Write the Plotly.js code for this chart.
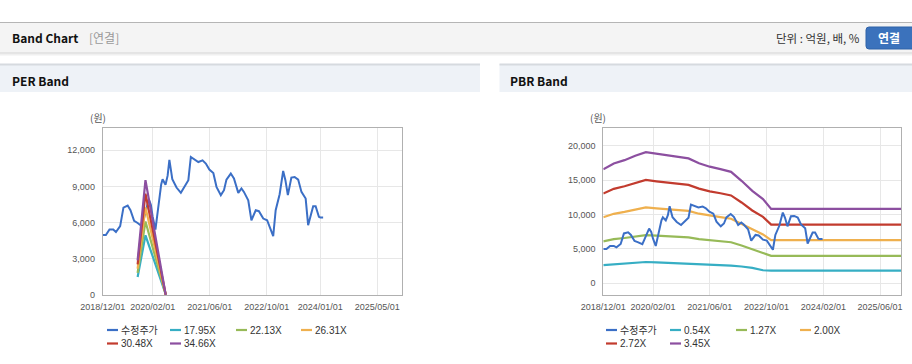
<!DOCTYPE html>
<html>
<head>
<meta charset="utf-8">
<script src="https://cdn.plot.ly/plotly-3.0.1.min.js"></script>
<style>
html,body{margin:0;padding:0;background:#fff;}
#chart{width:912px;height:364px;}
</style>
</head>
<body>
<div id="chart"></div>
<script>
// ---------------- data ----------------
const priceDates = ['2018-12-01','2018-12-28','2019-01-28','2019-03-01','2019-03-24','2019-04-29','2019-05-27','2019-07-02','2019-07-26','2019-08-26','2019-09-22','2019-10-14','2019-11-01','2019-11-22','2019-12-29','2020-01-16','2020-01-31','2020-02-24','2020-03-14','2020-03-29','2020-04-13','2020-04-25','2020-05-20','2020-06-07','2020-06-22','2020-07-17','2020-08-22','2020-09-28','2020-10-25','2020-12-01','2020-12-22','2021-01-24','2021-02-24','2021-04-01','2021-04-29','2021-05-29','2021-07-02','2021-07-29','2021-09-04','2021-10-01','2021-10-22','2021-11-28','2021-12-25','2022-01-31','2022-02-27','2022-03-20','2022-04-26','2022-05-23','2022-06-29','2022-07-26','2022-09-01','2022-10-04','2022-11-01','2022-11-25','2022-12-16','2023-01-19','2023-02-18','2023-03-09','2023-03-30','2023-04-29','2023-05-27','2023-06-26','2023-07-24','2023-08-29','2023-09-19','2023-10-02','2023-11-01','2023-11-22','2023-12-20','2024-01-01','2024-01-25'];
const price = [4970,4970,5430,5430,5220,5710,7250,7420,7030,6150,5990,5790,5700,6500,7950,7480,6520,5420,7000,8300,9170,9600,9150,9900,11200,9600,8910,8470,8910,9520,11450,11230,11030,11170,10900,10400,10120,8970,8280,8690,9570,10070,9660,8470,8830,8550,7860,6200,7030,6950,6340,6200,5520,4880,7030,8360,10290,9520,8280,9740,9790,9570,8550,8000,5790,6340,7370,7370,6480,6430,6430];

const perBandDates = ['2019-09-25','2019-12-01','2020-05-22'];
const per1795 = [1490,4950,50];
const per2213 = [1840,6100,40];
const per2631 = [2180,7260,30];
const per3048 = [2530,8400,20];
const per3466 = [2880,9530,10];

const pbrBandDates = ['2018-12-01','2019-03-01','2019-06-01','2019-09-01','2019-12-01','2020-03-01','2020-06-01','2020-09-01','2020-12-01','2021-03-01','2021-06-01','2021-09-01','2021-12-01','2022-03-01','2022-06-01','2022-09-01','2022-11-10','2025-12-31'];
const pbr054 = [2650,2750,2900,3000,3100,3050,2980,2930,2900,2800,2700,2650,2560,2440,2250,1900,1830,1830];
const pbr127 = [6096,6413,6589,6829,7013,6921,6847,6773,6681,6424,6240,6111,5964,5485,4944,4509,3983,3983];
const pbr200 = [9600,10099,10377,10754,11043,10899,10783,10667,10522,10116,9826,9623,9391,8638,7786,7101,6272,6272];
const pbr272 = [13056,13734,14113,14625,15019,14822,14664,14507,14310,13758,13364,13088,12772,11747,10588,9658,8531,8531];
const pbr345 = [16560,17420,17900,18550,19050,18800,18600,18400,18150,17450,16950,16600,16200,14900,13430,12250,10820,10820];

const perNames = ['수정주가','17.95X','22.13X','26.31X','30.48X','34.66X'];
const pbrNames = ['수정주가','0.54X','1.27X','2.00X','2.72X','3.45X'];
const perTicks = ['2018-12-01','2020-02-01','2021-06-01','2022-10-01','2024-01-01','2025-05-01'];
const pbrTicks = ['2018-12-01','2020-02-01','2021-06-01','2022-10-01','2024-02-01','2025-06-01'];
const perYTicks = [0,3000,6000,9000,12000];
const pbrYTicks = [0,5000,10000,15000,20000];

// ---------------- styling ----------------
const colors = ['#3b6fc6','#36aec4','#97ba58','#efb04e','#c23b2e','#8c4fa0'];
const W = 912, H = 364;
const X = v => v / W;
const Y = v => 1 - v / H;
const LAT = 'Liberation Sans, Noto Sans CJK KR, sans-serif';
const KR = 'Noto Sans CJK KR, Liberation Sans, sans-serif';

const perBands = [per1795, per2213, per2631, per3048, per3466];
const pbrBands = [pbr054, pbr127, pbr200, pbr272, pbr345];

const traces = [];
traces.push({x: priceDates, y: price, xaxis:'x', yaxis:'y', type:'scatter', mode:'lines', name: perNames[0], line:{color: colors[0], width:2}});
perBands.forEach((b,i)=>traces.push({x: perBandDates, y: b, xaxis:'x', yaxis:'y', type:'scatter', mode:'lines', name: perNames[i+1], line:{color: colors[i+1], width:2.2}}));
pbrBands.forEach((b,i)=>traces.push({x: pbrBandDates, y: b, xaxis:'x2', yaxis:'y2', type:'scatter', mode:'lines', name: pbrNames[i+1], line:{color: colors[i+1], width:2.2}}));
traces.push({x: priceDates, y: price, xaxis:'x2', yaxis:'y2', type:'scatter', mode:'lines', name: pbrNames[0], line:{color: colors[0], width:2}});

const shapes = [];
const annotations = [];
function hline(x0,x1,y,color,w){shapes.push({type:'line',xref:'paper',yref:'paper',x0:X(x0),x1:X(x1),y0:Y(y),y1:Y(y),line:{color:color,width:w},layer:'below'});}
function rect(x0,x1,y0,y1,fill){shapes.push({type:'rect',xref:'paper',yref:'paper',x0:X(x0),x1:X(x1),y0:Y(y1),y1:Y(y0),fillcolor:fill,line:{width:0},layer:'below'});}
function text(t,x,y,opt){annotations.push(Object.assign({text:t,xref:'paper',yref:'paper',x:X(x),y:Y(y),xanchor:'left',yanchor:'middle',showarrow:false,borderpad:0,font:{family:KR,size:12,color:'#333'}},opt||{}));}

// header bar
rect(0,912,22.5,52.5,'#f4f4f4');
hline(0,912,22.5,'#b5b5b5',1);
hline(0,912,53,'#cfcfcf',1);
hline(0,912,54,'#e2e2e2',1);
hline(0,912,55,'#f0f0f0',1);
text('Band Chart',11,38,{font:{family:KR,size:12,color:'#111',weight:'bold'}});
text('[연결]',88,38,{font:{family:KR,size:12,color:'#999'}});
text('단위 : 억원, 배, %',861,38,{xanchor:'right',font:{family:KR,size:11.5,color:'#333'}});
// button
shapes.push({type:'path',xref:'paper',yref:'paper',
  path:`M ${X(869)} ${Y(27)} L ${X(915)} ${Y(27)} L ${X(915)} ${Y(49)} L ${X(869)} ${Y(49)} Q ${X(866)} ${Y(49)} ${X(866)} ${Y(46)} L ${X(866)} ${Y(30)} Q ${X(866)} ${Y(27)} ${X(869)} ${Y(27)} Z`,
  fillcolor:'#3b72bc',line:{color:'#2f62a8',width:1},layer:'below'});
text('연결',889,38,{xanchor:'center',font:{family:KR,size:12,color:'#ffffff',weight:'bold'}});

// panel headers
rect(0,480,64,92,'#eef2f7');
rect(499.5,912,64,92,'#eef2f7');
hline(0,480,64.5,'#d6dadf',2);
hline(499.5,912,64.5,'#d6dadf',2);
text('PER Band',11,80,{font:{family:KR,size:12,color:'#111',weight:'bold'}});
text('PBR Band',509,80,{font:{family:KR,size:12,color:'#111',weight:'bold'}});

// unit labels
text('(원)',98,118,{xanchor:'center',font:{family:KR,size:10,color:'#555'}});
text('(원)',598,118,{xanchor:'center',font:{family:KR,size:10,color:'#555'}});

// legends
function legend(names, cols, rowY){
  names.forEach((n,i)=>{
    const c = cols[i % 4], y = rowY[Math.floor(i/4)];
    hline(c, c+11, y, colors[i], 2.2);
    text(n, c+13, y, {font:{family:LAT,size:10,color:'#333'}});
  });
}
legend(perNames,[107,170,236,301],[330,343.5]);
legend(pbrNames,[606,670,736,800],[330,343.5]);

const axX = {type:'date', range:['2018-12-01','2025-11-28'], tickformat:'%Y/%m/%d', showgrid:true, gridcolor:'#e7e7e7', gridwidth:1,
  showline:true, mirror:true, linecolor:'#b0b0b0', linewidth:1, zeroline:false, ticks:'', ticklabelstandoff:3,
  tickfont:{family:LAT,size:9,color:'#555'}, fixedrange:true};
const axY = {showgrid:true, gridcolor:'#e7e7e7', gridwidth:1, showline:true, mirror:true, linecolor:'#b0b0b0', linewidth:1,
  zeroline:false, ticks:'', tickformat:',d', ticklabelstandoff:5, tickfont:{family:LAT,size:9,color:'#555'}, fixedrange:true};

const layout = {
  width:W, height:H, margin:{l:0,r:0,t:0,b:0}, paper_bgcolor:'#ffffff', plot_bgcolor:'#ffffff', showlegend:false,
  xaxis: Object.assign({}, axX, {domain:[X(102.7),X(402)], anchor:'y', tickvals: perTicks}),
  yaxis: Object.assign({}, axY, {domain:[Y(295),Y(128)], anchor:'x', range:[0,13850], tickvals: perYTicks}),
  xaxis2: Object.assign({}, axX, {domain:[X(603.3),X(901)], anchor:'y2', tickvals: pbrTicks}),
  yaxis2: Object.assign({}, axY, {domain:[Y(295),Y(128.3)], anchor:'x2', range:[-1700,22530], tickvals: pbrYTicks}),
  shapes: shapes, annotations: annotations
};
Plotly.newPlot('chart', traces, layout, {staticPlot:true, displayModeBar:false});
</script>
</body>
</html>
